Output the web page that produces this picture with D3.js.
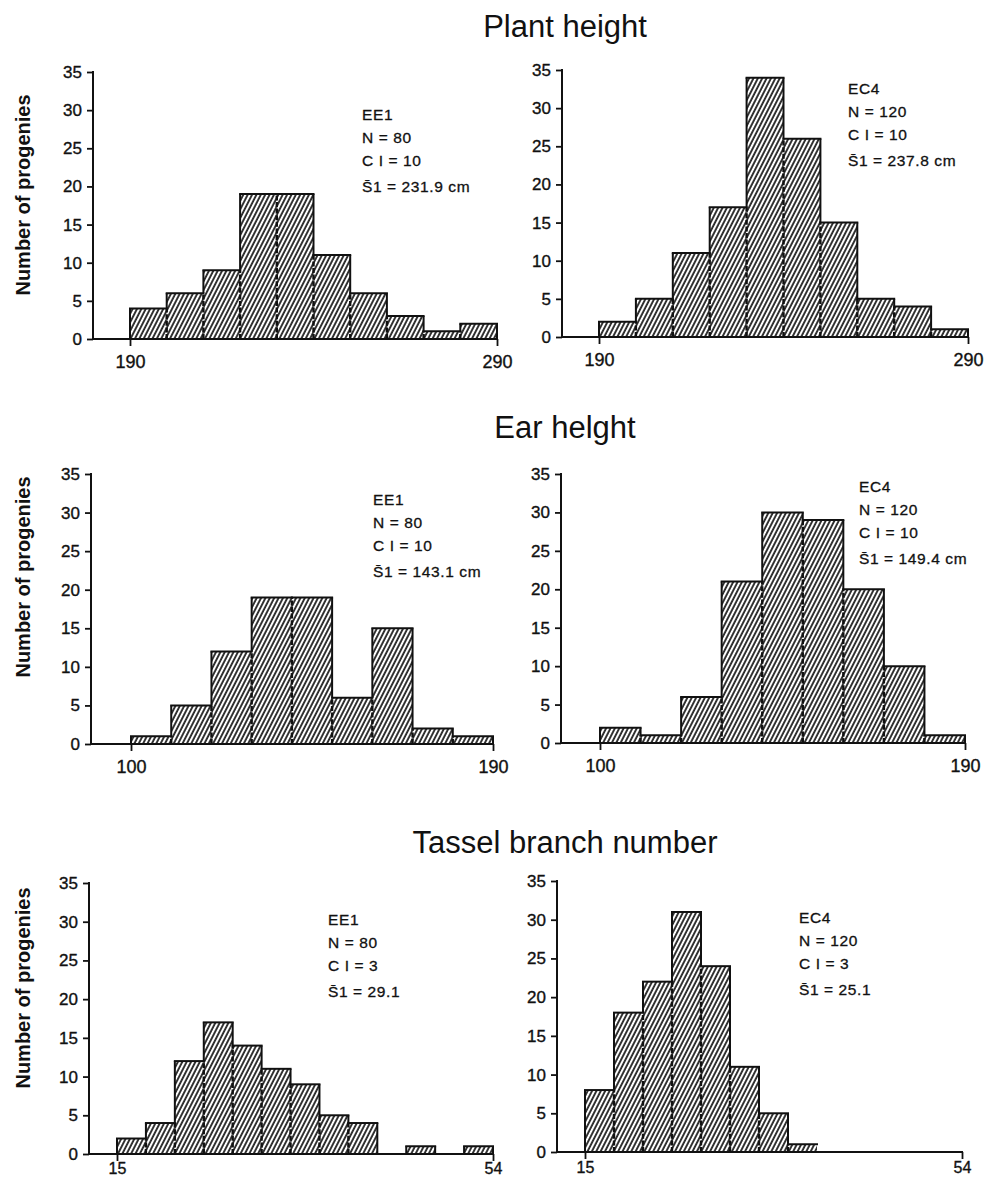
<!DOCTYPE html>
<html>
<head>
<meta charset="utf-8">
<script src="https://cdn.jsdelivr.net/npm/d3@7"></script>
<style>
  body { margin: 0; background: #fff; }
  text { font-family: "Liberation Sans", Arial, sans-serif; fill: #111; }
</style>
</head>
<body>
<div id="chart"></div>
<script>
// bin starts (lower class limits) and counts
const plantBins = [190, 200, 210, 220, 230, 240, 250, 260, 270, 280]
const earBins = [100, 110, 120, 130, 140, 150, 160, 170, 180]
const tasselBins = [15, 18, 21, 24, 27, 30, 33, 36, 39, 42, 45, 48, 51]

const plantEE1 = [4, 6, 9, 19, 19, 11, 6, 3, 1, 2]
const plantEC4 = [2, 5, 11, 17, 34, 26, 15, 5, 4, 1]
const earEE1 = [1, 5, 12, 19, 19, 6, 15, 2, 1]
const earEC4 = [2, 1, 6, 21, 30, 29, 20, 10, 1]
const tasselEE1 = [2, 4, 12, 17, 14, 11, 9, 5, 4, 0, 1, 0, 1]
const tasselEC4 = [8, 18, 22, 31, 24, 11, 5, 1]

const yTicks = [0, 5, 10, 15, 20, 25, 30, 35]
const plantTicks = [190, 290]
const earTicks = [100, 190]
const tasselTicks = [15, 54]

const titles = ["Plant height", "Ear helght", "Tassel branch number"]
const yLabel = "Number of progenies"

const notesEE1Plant = ["EE1", "N = 80", "C I = 10", "S\u03041 = 231.9 cm"]
const notesEC4Plant = ["EC4", "N = 120", "C I = 10", "S\u03041 = 237.8 cm"]
const notesEE1Ear = ["EE1", "N = 80", "C I = 10", "S\u03041 = 143.1 cm"]
const notesEC4Ear = ["EC4", "N = 120", "C I = 10", "S\u03041 = 149.4 cm"]
const notesEE1Tassel = ["EE1", "N = 80", "C I = 3", "S\u03041 = 29.1"]
const notesEC4Tassel = ["EC4", "N = 120", "C I = 3", "S\u03041 = 25.1"]

// panel placement (pixels)
const panels = [
  {bins: plantBins, counts: plantEE1, w: 10, ticks: plantTicks, notes: notesEE1Plant,
   ax: 93, y0: 339, y1: 72, x0: 130, x1: 497, nx: 362, ny: 120, pad: 9},
  {bins: plantBins, counts: plantEC4, w: 10, ticks: plantTicks, notes: notesEC4Plant,
   ax: 562, y0: 337, y1: 70, x0: 599, x1: 968, nx: 848, ny: 94, pad: 9},
  {bins: earBins, counts: earEE1, w: 10, ticks: earTicks, notes: notesEE1Ear,
   ax: 91, y0: 744, y1: 474, x0: 131, x1: 493, nx: 373, ny: 505, pad: 9},
  {bins: earBins, counts: earEC4, w: 10, ticks: earTicks, notes: notesEC4Ear,
   ax: 561, y0: 743, y1: 474, x0: 600, x1: 965, nx: 859, ny: 492, pad: 9},
  {bins: tasselBins, counts: tasselEE1, w: 3, ticks: tasselTicks, notes: notesEE1Tassel,
   ax: 89, y0: 1154, y1: 883, x0: 117, x1: 493, nx: 328, ny: 925, pad: 2},
  {bins: tasselBins, counts: tasselEC4, w: 3, ticks: tasselTicks, notes: notesEC4Tassel,
   ax: 557, y0: 1152, y1: 881, x0: 585, x1: 962, nx: 799, ny: 923, pad: 3}
]
const titleY = [37, 438, 853]
const labelY = [195, 577, 988]

const svg = d3.select("#chart").append("svg")
  .attr("width", 987)
  .attr("height", 1180)

// hatch fill
svg.append("defs").append("pattern")
  .attr("id", "hatch")
  .attr("patternUnits", "userSpaceOnUse")
  .attr("width", 3.9)
  .attr("height", 3.9)
  .attr("patternTransform", "rotate(27)")
  .append("line")
    .attr("x1", 1).attr("y1", 0)
    .attr("x2", 1).attr("y2", 3.9)
    .attr("stroke", "#111")
    .attr("stroke-width", 1.7)

titles.forEach((t, i) => {
  svg.append("text")
    .attr("x", 565)
    .attr("y", titleY[i])
    .attr("text-anchor", "middle")
    .style("font-size", "31px")
    .text(t)
  svg.append("text")
    .attr("transform", `translate(30,${labelY[i]}) rotate(-90)`)
    .attr("text-anchor", "middle")
    .style("font-size", "20px")
    .style("font-weight", "bold")
    .text(yLabel)
})

panels.forEach(p => drawPanel(p))

function drawPanel(p) {
  const lo = p.bins[0]
  const hi = p.ticks[1]
  const x = d3.scaleLinear().domain([lo, hi]).range([p.x0, p.x1])
  const y = d3.scaleLinear().domain([0, 35]).range([p.y0, p.y1])
  const g = svg.append("g")

  const data = p.bins.map((b, i) => ({start: b, end: b + p.w, count: p.counts[i]}))

  // hatched bars
  g.selectAll("rect.bar")
    .data(data.filter(d => d.count > 0))
    .enter()
    .append("rect")
      .attr("class", "bar")
      .attr("x", d => x(d.start))
      .attr("y", d => y(d.count))
      .attr("width", d => x(d.end) - x(d.start))
      .attr("height", d => y(0) - y(d.count))
      .style("fill", "url(#hatch)")

  // bar tops
  g.selectAll("line.top")
    .data(data.filter(d => d.count > 0))
    .enter()
    .append("line")
      .attr("x1", d => x(d.start) - 1)
      .attr("x2", d => x(d.end) + 1)
      .attr("y1", d => y(d.count))
      .attr("y2", d => y(d.count))
      .attr("stroke", "#111")
      .attr("stroke-width", 2)

  // vertical edges: dashed where two bars meet, solid where exposed
  const edges = data.map((d, i) => ({
    at: d.start,
    left: i > 0 ? data[i - 1].count : 0,
    right: d.count
  }))
  edges.push({at: data[data.length - 1].end, left: data[data.length - 1].count, right: 0})

  edges.forEach(e => {
    const shared = Math.min(e.left, e.right)
    const top = Math.max(e.left, e.right)
    if (top > shared) {
      g.append("line")
        .attr("x1", x(e.at)).attr("x2", x(e.at))
        .attr("y1", y(shared)).attr("y2", y(top))
        .attr("stroke", "#111")
        .attr("stroke-width", 2)
    }
    if (shared > 0) {
      g.append("line")
        .attr("x1", x(e.at)).attr("x2", x(e.at))
        .attr("y1", y(0)).attr("y2", y(shared))
        .attr("stroke", "#111")
        .attr("stroke-width", 2.4)
        .attr("stroke-dasharray", "5,1.6")
    }
  })

  // y axis
  const yAxis = g.append("g")
    .attr("transform", `translate(${p.ax},0)`)
    .call(d3.axisLeft(y).tickValues(yTicks).tickSize(6).tickPadding(5))
  yAxis.select(".domain").remove()
  yAxis.append("line")
    .attr("x1", 0).attr("x2", 0)
    .attr("y1", y(35) - 1).attr("y2", y(0) + 1)
    .attr("stroke", "#111")
    .attr("stroke-width", 2)

  // x axis (baseline runs from the y axis to the last tick)
  const xAxis = g.append("g")
    .attr("transform", `translate(0,${p.y0})`)
    .call(d3.axisBottom(x).tickValues(p.ticks).tickSize(7).tickPadding(p.pad).tickFormat(d3.format("d")))
  xAxis.select(".domain").remove()
  xAxis.append("line")
    .attr("x1", p.ax).attr("x2", x(hi) + 1)
    .attr("y1", 0).attr("y2", 0)
    .attr("stroke", "#111")
    .attr("stroke-width", 2)

  g.selectAll(".tick line").attr("stroke", "#111").attr("stroke-width", 1.8)
  g.selectAll(".tick text")
    .style("font-size", "17px")
    .style("font-family", "'Liberation Sans', Arial, sans-serif")
    .attr("fill", "#111")
    .attr("stroke", "#111")
    .attr("stroke-width", 0.35)
  xAxis.selectAll(".tick text").style("font-size", p.pad < 5 ? "16px" : "18px")

  // sample notes
  g.selectAll("text.note")
    .data(p.notes)
    .enter()
    .append("text")
      .attr("class", "note")
      .attr("x", p.nx)
      .attr("y", (d, i) => p.ny + [0, 23, 46, 72][i])
      .style("font-size", "15.5px")
      .style("letter-spacing", "0.6px")
      .attr("stroke", "#111")
      .attr("stroke-width", 0.3)
      .text(d => d)
}
</script>
</body>
</html>
